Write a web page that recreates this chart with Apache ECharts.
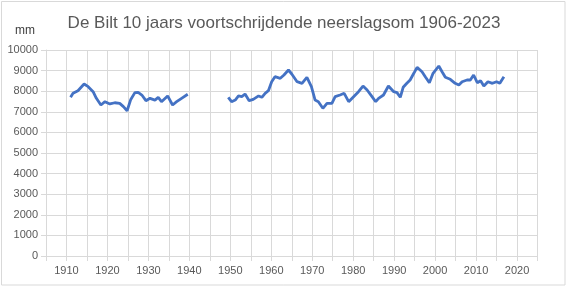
<!DOCTYPE html>
<html>
<head>
<meta charset="utf-8">
<script src="https://cdn.jsdelivr.net/npm/echarts@6/dist/echarts.min.js"></script>
<style>html,body{margin:0;padding:0;background:#fff}#c{width:568px;height:289px}</style>
</head>
<body>
<div id="c"></div>
<script>
// 10-year running sum (mm), plotted at centre year of window
const years1 = [1911.0,1911.6,1912.8,1914.3,1915.3,1916.5,1917.3,1918.4,1919.4,1920.6,1921.8,1923.0,1923.9,1924.8,1925.7,1926.7,1927.5,1928.4,1929.4,1930.4,1931.6,1932.4,1933.2,1934.7,1935.9,1936.9,1938.1,1939.6];
const values1 = [7704,7898,8024,8350,8220,7976,7655,7330,7490,7380,7440,7410,7250,7050,7600,7930,7945,7815,7540,7655,7570,7700,7490,7770,7330,7490,7655,7850];
const years2 = [1949.5,1950.3,1951.2,1952.0,1952.8,1953.6,1954.6,1955.6,1956.9,1957.7,1958.5,1959.3,1960.1,1960.9,1962.2,1963.1,1964.2,1965.0,1966.3,1967.5,1968.7,1969.8,1970.7,1971.5,1972.6,1973.6,1974.8,1975.6,1976.8,1977.8,1978.9,1980.1,1981.3,1982.4,1983.4,1984.6,1985.5,1986.2,1987.4,1988.6,1989.9,1990.7,1991.5,1992.2,1993.1,1993.9,1994.8,1995.6,1996.8,1997.6,1998.6,1999.5,2000.9,2001.7,2002.5,2003.7,2004.9,2005.8,2006.6,2007.8,2008.6,2009.4,2010.3,2011.1,2011.9,2012.9,2014.0,2015.0,2015.8,2016.8];
const values2 = [7704,7490,7570,7770,7735,7864,7540,7605,7770,7704,7898,8024,8461,8704,8626,8786,9029,8835,8461,8383,8674,8218,7570,7490,7170,7412,7412,7735,7815,7898,7490,7735,7976,8252,8058,7735,7490,7655,7815,8252,7976,7930,7704,8189,8383,8544,8869,9160,8947,8704,8413,8869,9223,8947,8674,8578,8383,8300,8461,8544,8544,8786,8413,8510,8252,8461,8383,8461,8383,8704];
const yTicks = [0,1000,2000,3000,4000,5000,6000,7000,8000,9000,10000];
const titleText = 'De Bilt 10 jaars voortschrijdende neerslagsom 1906-2023';
const unitText = 'mm';

const data = [];
years1.forEach((y,i)=>data.push([y, values1[i]]));
data.push([1944, null]);
years2.forEach((y,i)=>data.push([y, values2[i]]));

const grid = '#d9d9d9', txt = '#595959';
const chart = echarts.init(document.getElementById('c'), null, {renderer:'canvas'});
chart.setOption({
  animation:false,
  backgroundColor:'#fff',
  grid:{left:46, right:30.5, top:50, bottom:33, containLabel:false},
  graphic:[
    {type:'rect', shape:{x:1.5,y:1.5,width:563.5,height:283.5}, style:{fill:null, stroke:grid, lineWidth:1}, silent:true},
    {type:'text', x:284, y:23, style:{text:titleText, fill:txt, font:'17px "Liberation Sans"', textAlign:'center', textVerticalAlign:'middle'}},
    {type:'text', x:25, y:31, style:{text:unitText, fill:'#404040', font:'12px "Liberation Sans"', textAlign:'center', textVerticalAlign:'middle'}}
  ],
  xAxis:{type:'value', min:1905, max:2025, interval:5,
    axisLine:{show:true, lineStyle:{color:grid}},
    axisTick:{show:true, length:5, lineStyle:{color:grid}},
    splitLine:{show:true, lineStyle:{color:grid}},
    axisLabel:{color:txt, fontSize:11, fontFamily:'Liberation Sans', margin:9,
      formatter:v=> (Math.round(v)%10===0 && v>1905 && v<2025) ? String(Math.round(v)) : ''}
  },
  yAxis:{type:'value', min:yTicks[0], max:yTicks[yTicks.length-1], interval:1000,
    axisLine:{show:true, lineStyle:{color:grid}},
    axisTick:{show:true, length:5, lineStyle:{color:grid}},
    splitLine:{show:true, lineStyle:{color:grid}},
    axisLabel:{color:txt, fontSize:11, fontFamily:'Liberation Sans', margin:8, formatter:v=>String(v)}
  },
  series:[{type:'line', data:data, showSymbol:false, connectNulls:false,
    lineStyle:{color:'#4472C4', width:2.8}, itemStyle:{color:'#4472C4'}}]
});
</script>
</body>
</html>
